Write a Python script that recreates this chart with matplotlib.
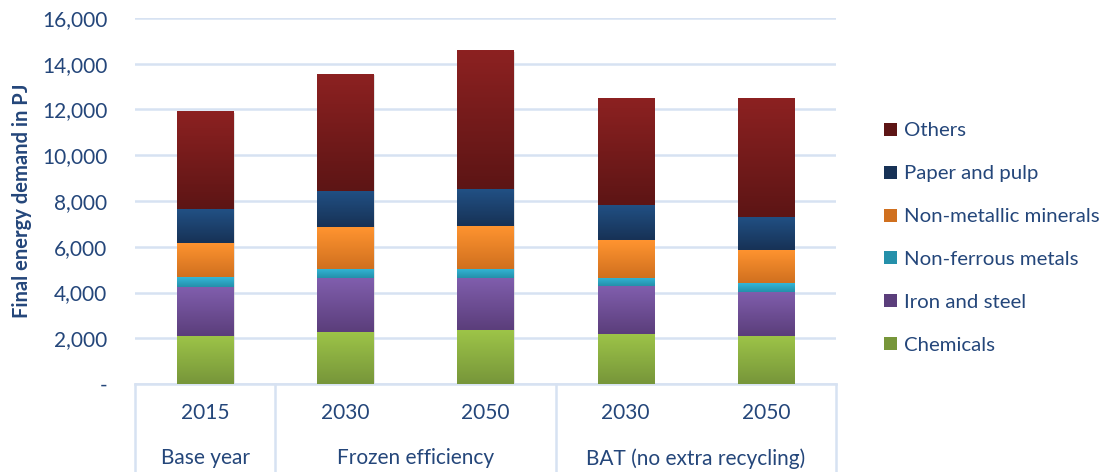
import numpy as np
import matplotlib.pyplot as plt
from matplotlib.colors import LinearSegmentedColormap
from matplotlib.patches import Patch

plt.rcParams['font.family'] = ['Lato', 'DejaVu Sans']

years = ['2015', '2030', '2050', '2030', '2050']
groups = ['Base year', 'Frozen efficiency', 'BAT (no extra recycling)']
group_spans = [(0, 0), (1, 2), (3, 4)]

sectors = ['Chemicals', 'Iron and steel', 'Non-ferrous metals',
           'Non-metallic minerals', 'Paper and pulp', 'Others']
chemicals = [2120, 2280, 2340, 2190, 2100]
iron_steel = [2120, 2340, 2280, 2080, 1940]
non_ferrous = [420, 420, 410, 350, 360]
non_metallic = [1500, 1820, 1880, 1660, 1460]
paper_pulp = [1480, 1590, 1600, 1550, 1460]
others = [4250, 5110, 6070, 4670, 5200]
series = [chemicals, iron_steel, non_ferrous, non_metallic, paper_pulp, others]

# (top colour, bottom colour) of each segment gradient
shades = [('#9dc448', '#77963a'),
          ('#805ead', '#5b3e7b'),
          ('#33b7d8', '#2590aa'),
          ('#ff9430', '#d0701f'),
          ('#215084', '#173256'),
          ('#8c2121', '#5d1515')]

text_col = '#24467a'
grid_col = '#d7e2f2'
fs = 15

fig = plt.figure(figsize=(11.05, 4.72), dpi=100)
ax = fig.add_axes([135 / 1105, 88 / 472, 701 / 1105, 366 / 472])

x = np.arange(len(years))
width = 0.4
grad = np.linspace(1, 0, 64).reshape(-1, 1)

bottom = np.zeros(len(years))
for vals, (top_c, bot_c) in zip(series, shades):
    cmap = LinearSegmentedColormap.from_list('seg', [bot_c, top_c])
    vals = np.array(vals, dtype=float)
    for xi, b, v in zip(x, bottom, vals):
        ax.imshow(grad, cmap=cmap, vmin=0, vmax=1, aspect='auto',
                  extent=(xi - width / 2, xi + width / 2, b, b + v),
                  zorder=3, interpolation='bilinear')
    bottom += vals

# soft shadow round each stacked bar
for xi, total in zip(x, bottom):
    ax.add_patch(plt.Rectangle((xi - width / 2 + 0.01, 0), width, total - 60,
                               facecolor='#c8c8c8', alpha=0.5, edgecolor='none',
                               zorder=2.5))

ax.set_xlim(-0.5, len(years) - 0.5)
ax.set_ylim(0, 16000)

ax.set_yticks(np.arange(0, 16001, 2000))
ax.set_yticklabels(['-'] + [f'{v:,}' for v in range(2000, 16001, 2000)])
ax.tick_params(axis='y', length=0, pad=20, labelsize=fs, labelcolor=text_col)
ax.yaxis.grid(True, color=grid_col, linewidth=1.8, zorder=0)
ax.set_axisbelow(True)
ax.set_xticks([])

for side in ['top', 'right', 'left']:
    ax.spines[side].set_visible(False)
ax.spines['bottom'].set_color(grid_col)
ax.spines['bottom'].set_linewidth(1.8)

ax.set_ylabel('Final energy demand in PJ', fontsize=14.5, fontweight='bold',
               color=text_col, labelpad=7)

# two-level category axis
trans = ax.get_xaxis_transform()
for xi, yr in zip(x, years):
    ax.text(xi, -0.08, yr, transform=trans, ha='center', va='center',
            fontsize=fs, color=text_col)
for (a, b), name in zip(group_spans, groups):
    ax.text((a + b) / 2, -0.203, name, transform=trans, ha='center',
            va='center', fontsize=fs, color=text_col)
dividers = [-0.5] + [b + 0.5 for _, b in group_spans]
for d in dividers:
    ax.plot([d, d], [0, -0.25], transform=trans, color=grid_col,
            linewidth=1.8, clip_on=False, zorder=1)

handles = [Patch(facecolor=c[1], edgecolor='none', label=s)
           for s, c in zip(sectors, shades)]
leg = fig.legend(handles[::-1], sectors[::-1], loc='upper left',
                 bbox_to_anchor=(866 / 1105, 1 - 104 / 472), frameon=False,
                 fontsize=14.7, handlelength=0.6, handleheight=0.6,
                 handletextpad=0.35, labelspacing=1.27, labelcolor=text_col)

fig.savefig('out.png', dpi=100)
